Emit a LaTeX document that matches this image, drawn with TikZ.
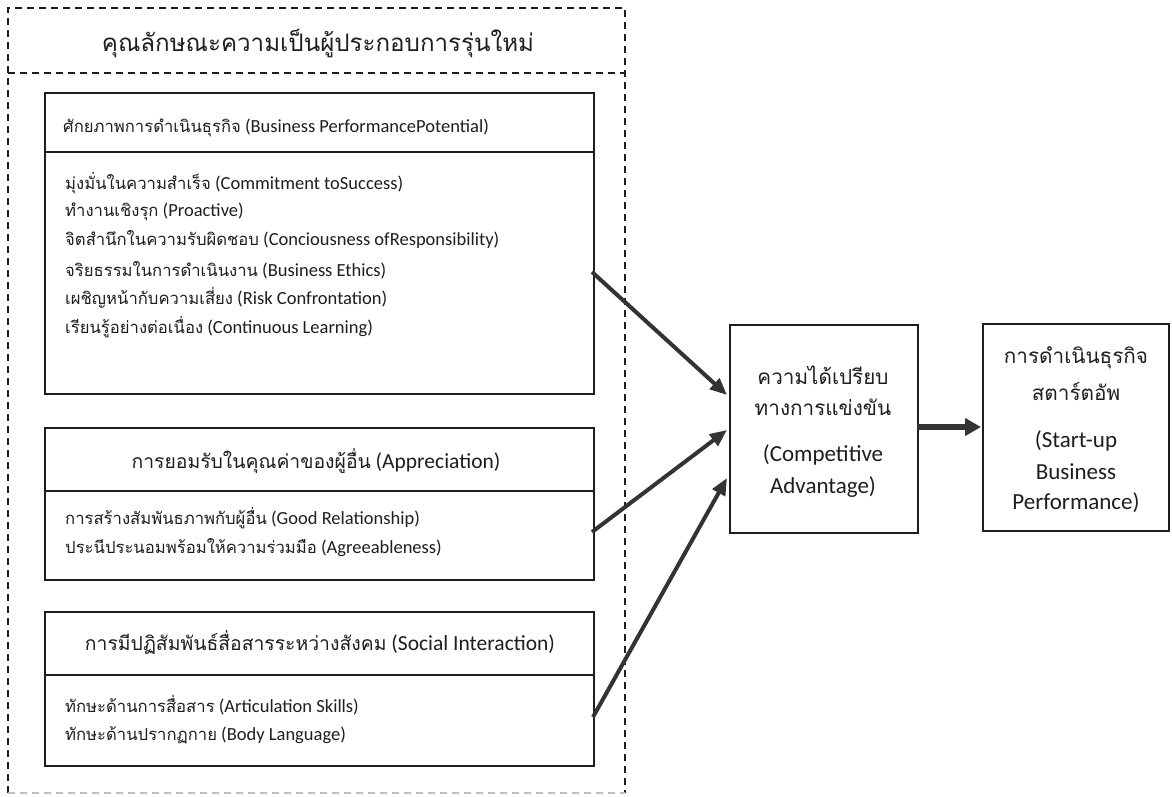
\documentclass[tikz,border=0pt]{standalone}
\usepackage{fontspec}
\setmainfont{Carlito}
\newfontfamily\thaifont[Script=Thai,Scale=0.9]{Loma}
\newcommand{\T}[1]{{\thaifont #1}}
\usetikzlibrary{arrows.meta,calc}
\definecolor{ink}{HTML}{1E1E1E}
\definecolor{arrink}{HTML}{333333}
\begin{document}
\begin{tikzpicture}[x=1pt,y=-1pt,
  boxst/.style={draw=ink, line width=2pt, anchor=north west, inner sep=0pt},
  item/.style={anchor=west, inner sep=0pt, text=ink, font=\fontsize{18.5}{20}\selectfont},
  headc/.style={inner sep=0pt, text=ink, font=\fontsize{21.5}{24}\selectfont},
  big/.style={inner sep=0pt, text=ink, font=\fontsize{23}{26}\selectfont},
  framest/.style={draw=ink, line width=1.5pt, dash pattern=on 7pt off 5pt},
  arr/.style={draw=arrink, line width=4pt, -{Triangle[length=17pt,width=14pt]}},
  arrthick/.style={draw=arrink, line width=6pt, -{Triangle[length=16pt,width=17pt]}}
]
\useasboundingbox (0,0) rectangle (1172,796);
\fill[white] (0,0) rectangle (1172,796);

% dashed frame
\coordinate (ftl) at (8,8);
\coordinate (ftr) at (625,8);
\coordinate (fbl) at (8,793);
\coordinate (fbr) at (625,793);
\coordinate (fsl) at (8,73);
\coordinate (fsr) at (625,73);
\draw[framest] (fbl) -- (ftl) -- (ftr) -- (fbr);
\draw[framest] (fsl) -- (fsr);
\draw[framest, draw=black!25] (fbl) -- (fbr);
\node[inner sep=0pt, text=ink, font=\fontsize{26.8}{30}\selectfont] (title) at (318,43) {\T{คุณลักษณะความเป็นผู้ประกอบการรุ่นใหม่}};

% box 1
\node[boxst, minimum width=549pt, minimum height=301pt] (b1) at (44,92) {};
\draw[ink, line width=2pt] (44,152) -- (593,152);
\node[item] (h1) at (63,128) {\T{ศักยภาพการดำเนินธุรกิจ} (Business PerformancePotential)};
\node[item] (i11) at (65,183) {\T{มุ่งมั่นในความสำเร็จ} (Commitment toSuccess)};
\node[item] (i12) at (65,212) {\T{ทำงานเชิงรุก} (Proactive)};
\node[item] (i13) at (65,240) {\T{จิตสำนึกในความรับผิดชอบ} (Conciousness ofResponsibility)};
\node[item] (i14) at (65,270) {\T{จริยธรรมในการดำเนินงาน} (Business Ethics)};
\node[item] (i15) at (65,298) {\T{เผชิญหน้ากับความเสี่ยง} (Risk Confrontation)};
\node[item] (i16) at (65,327) {\T{เรียนรู้อย่างต่อเนื่อง} (Continuous Learning)};

% box 2
\node[boxst, minimum width=549pt, minimum height=152pt] (b2) at (44,427) {};
\draw[ink, line width=2pt] (44,491) -- (593,491);
\node[headc] (h2) at (316,461) {\T{การยอมรับในคุณค่าของผู้อื่น} (Appreciation)};
\node[item] (i21) at (65,518) {\T{การสร้างสัมพันธภาพกับผู้อื่น} (Good Relationship)};
\node[item] (i22) at (65,548) {\T{ประนีประนอมพร้อมให้ความร่วมมือ} (Agreeableness)};

% box 3
\node[boxst, minimum width=549pt, minimum height=154pt] (b3) at (44,611) {};
\draw[ink, line width=2pt] (44,675) -- (593,675);
\node[headc] (h3) at (320,642) {\T{การมีปฏิสัมพันธ์สื่อสารระหว่างสังคม} (Social Interaction)};
\node[item] (i31) at (65,705) {\T{ทักษะด้านการสื่อสาร} (Articulation Skills)};
\node[item] (i32) at (65,735) {\T{ทักษะด้านปรากฏกาย} (Body Language)};

% central box
\node[boxst, minimum width=188pt, minimum height=208pt] (ca) at (729,324) {};
\node[big] (c1) at (823,375) {\T{ความได้เปรียบ}};
\node[big] (c2) at (823,407) {\T{ทางการแข่งขัน}};
\node[big] (c3) at (823,455) {(Competitive};
\node[big] (c4) at (823,487) {Advantage)};

% right box
\node[boxst, minimum width=186pt, minimum height=207pt] (sp) at (982,323) {};
\node[big] (r1) at (1076,358) {\T{การดำเนินธุรกิจ}};
\node[big] (r2) at (1076,391) {\T{สตาร์ตอัพ}};
\node[big] (r3) at (1076,441) {(Start-up};
\node[big] (r4) at (1076,472) {Business};
\node[big] (r5) at (1076,503) {Performance)};

% arrows
\coordinate (a1s) at (592,272);
\coordinate (a1e) at (727,395);
\coordinate (a2s) at (592,532);
\coordinate (a2e) at (727,430);
\coordinate (a3s) at (593,717);
\coordinate (a3e) at (727,478);
\coordinate (a4s) at (917,427);
\coordinate (a4e) at (981,427);
\draw[arr] (a1s) -- (a1e);
\draw[arr] (a2s) -- (a2e);
\draw[arr] (a3s) -- (a3e);
\draw[arrthick] (a4s) -- (a4e);
\end{tikzpicture}
\end{document}
